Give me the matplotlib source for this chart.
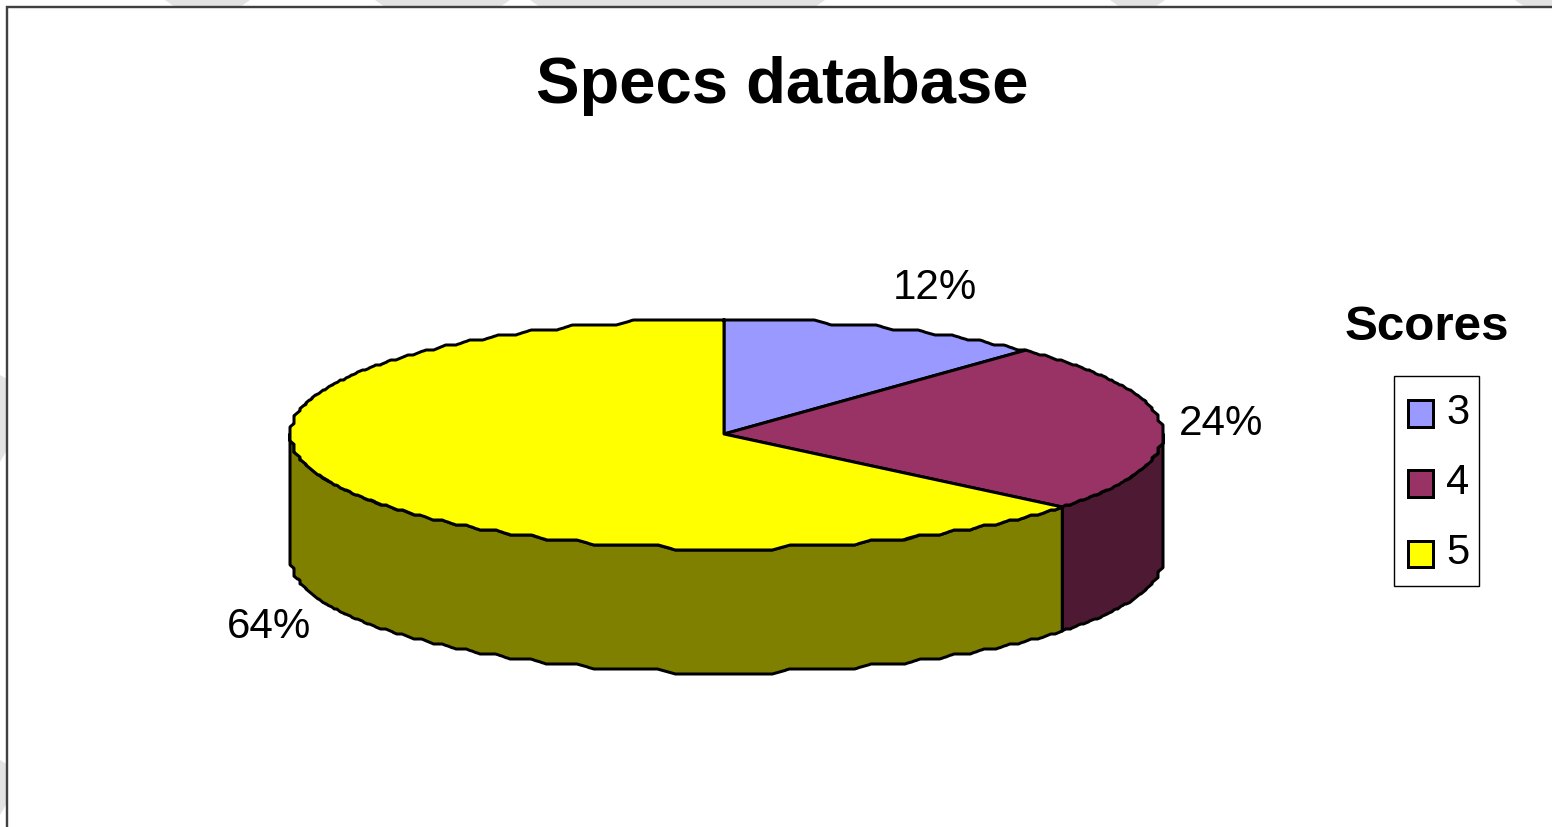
import numpy as np
import matplotlib
matplotlib.use("Agg")
import matplotlib.pyplot as plt
from matplotlib.patches import Rectangle, Patch
from matplotlib.legend_handler import HandlerPatch

title = "Specs database"
legend_title = "Scores"
categories = ["3", "4", "5"]
values = [12, 24, 64]
top_colors = ["#9999FF", "#993366", "#FFFF00"]
side_colors = ["#4D4D80", "#4D1933", "#808000"]

W, H = 1552, 827
PX = 72 / 100
CX, CY, RX_L, RX_R, RY, DEPTH = 724.0, 434.0, 434.0, 439.0, 114.5, 124.0
EDGE = 3.0 * PX

plt.rcParams["font.family"] = ["Liberation Sans", "DejaVu Sans"]
fig = plt.figure(figsize=(W / 100, H / 100), dpi=100, facecolor="white")
ax = fig.add_axes([0, 0, 1, 1])
ax.set_xlim(0, W)
ax.set_ylim(H, 0)
ax.axis("off")

# Pale backdrop shapes peeking out around the chart panel
for x0, x1 in [(165, 250), (375, 510), (530, 825), (1110, 1165), (1515, 1570)]:
    ax.fill([x0, x1, x1 - 10, x0 + 10], [0, 0, 7, 7], color="#E3E3E3", lw=0, zorder=0)
for y0, y1 in [(375, 462), (760, 815)]:
    ax.fill([0, 0, 7, 7], [y0, y1, y1 - 12, y0 + 4], color="#E3E3E3", lw=0, zorder=0)
ax.add_patch(Rectangle((7, 7), W, H, facecolor="white", edgecolor="#404040",
                       lw=2.4 * PX, zorder=1))


def point(deg):
    t = np.radians(deg)
    s = np.sin(t)
    return CX + np.where(s > 0, RX_R, RX_L) * s, CY - RY * np.cos(t)


def rim(a, b, dy=0.0):
    """Stepped elliptical rim between clockwise-from-top angles a and b (degrees)."""
    n = max(int(abs(b - a) * 3), 2)
    d = np.linspace(a - 6, b + 6, n + 36)
    x, y = point(d)
    k = np.ones(7) / 7
    xs = np.convolve(np.round(x / 6.0) * 6.0, k, mode="same")
    ys = np.convolve(np.round(y / 5.0) * 5.0, k, mode="same")
    xs = np.clip(xs, CX - RX_L, CX + RX_R)
    keep = (d >= a) & (d <= b)
    x0, y0 = point(a)
    x1, y1 = point(b)
    return np.r_[x0, xs[keep], x1], np.r_[y0, ys[keep], y1] + dy


fractions = np.array(values) / np.sum(values)
edges = np.r_[0, np.cumsum(fractions)] * 360

# Side walls: only the front half (90 to 270 degrees) is visible
for i in range(len(values)):
    a, b = max(edges[i], 90), min(edges[i + 1], 270)
    if b <= a:
        continue
    xt, yt = rim(a, b)
    xb, yb = rim(a, b, DEPTH)
    ax.fill(np.r_[xt, xb[::-1]], np.r_[yt, yb[::-1]], facecolor=side_colors[i],
            edgecolor="black", lw=EDGE, joinstyle="round", zorder=2)

# Top faces
for i in range(len(values)):
    x, y = rim(edges[i], edges[i + 1])
    ax.fill(np.r_[CX, x], np.r_[CY, y], facecolor=top_colors[i],
            edgecolor="black", lw=EDGE, joinstyle="round", zorder=3)

ax.text(782, 86, title, fontsize=47, fontweight="bold", ha="center", va="center", zorder=5)

label_positions = [(935, 288), (1221, 424), (269, 627)]
for v, (lx, ly) in zip(values, label_positions):
    ax.text(lx, ly, f"{v}%", fontsize=30.3, ha="center", va="center", zorder=5)

ax.text(1427, 327, legend_title, fontsize=35.6, fontweight="bold", ha="center", va="center", zorder=5)

ax.add_patch(Rectangle((1393.5, 376), 85.5, 210, facecolor="white", edgecolor="black",
                       lw=1.4 * PX, zorder=4))


def low_swatch(legend, orig_handle, xdescent, ydescent, width, height, fontsize):
    return Rectangle((-xdescent, -ydescent - 3.2), width, height)


handles = [Patch(facecolor=c, edgecolor="black", lw=3.0 * PX) for c in top_colors]
leg = ax.legend(handles, categories, loc="upper left",
                bbox_to_anchor=(1393.5, 378), bbox_transform=ax.transData,
                fontsize=30, frameon=False, borderaxespad=0, borderpad=0.35,
                labelspacing=0.728, handlelength=0.6, handleheight=0.6,
                handletextpad=0.32,
                handler_map={Patch: HandlerPatch(patch_func=low_swatch)})
leg.set_zorder(5)

fig.savefig("out.png", dpi=100, facecolor="white")
